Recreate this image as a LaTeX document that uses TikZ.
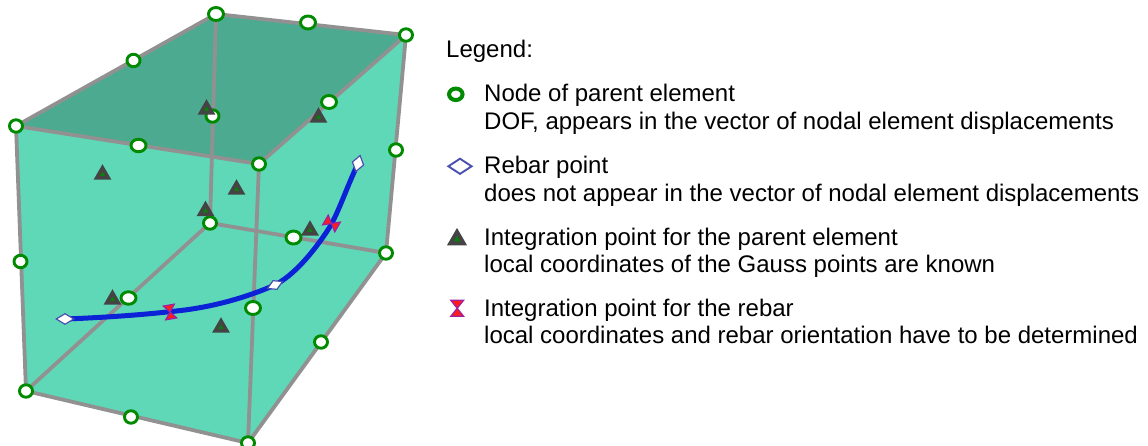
\documentclass[tikz,border=0pt]{standalone}
\usepackage{fontspec}
\setmainfont{Liberation Sans}
\usetikzlibrary{shapes.geometric}
\definecolor{faceC}{HTML}{5FD8B8}
\definecolor{topC}{HTML}{4BAA90}
\definecolor{edgeC}{HTML}{919191}
\definecolor{nodeC}{HTML}{008A00}
\definecolor{triC}{HTML}{444444}
\definecolor{triG}{HTML}{0A800A}
\definecolor{rebarC}{HTML}{0C22D6}
\definecolor{diaC}{HTML}{4A50B0}
\definecolor{hourE}{HTML}{A020A0}
\definecolor{hourF}{HTML}{FF1C1C}
\tikzset{
  x=1bp,y=-1bp,
  femnode/.style={ellipse,draw=nodeC,fill=white,line width=2.9bp,minimum width=13bp,minimum height=12.5bp,inner sep=0pt},
  edge/.style={draw=edgeC,line width=3.8bp,line join=round},
  tript/.style={regular polygon,regular polygon sides=3,draw=triC,fill=triG,line width=3.5bp,minimum size=13.5bp,inner sep=0pt},
  rebpt/.style={diamond,draw=diaC,fill=white,line width=1.2bp,minimum width=18bp,minimum height=11bp,inner sep=0pt},
  rebar/.style={draw=rebarC,line width=5bp},
  legtext/.style={anchor=base west,inner sep=0pt,font=\fontsize{24bp}{27bp}\selectfont},
  pics/hourglass/.style={code={
    \path[fill=hourF,draw=hourE,line width=1.2bp,line join=miter]
      (-5.6,-7) -- (5.6,-7) -- (-5.6,7) -- (5.6,7) -- cycle;
  }},
}
\begin{document}
\begin{tikzpicture}
\useasboundingbox (0,0) rectangle (1148,446);
% corners and mid-side positions
\coordinate (A) at (216,14);
\coordinate (B) at (406,35);
\coordinate (C) at (259,164);
\coordinate (D) at (16,126);
\coordinate (E) at (26,391);
\coordinate (F) at (248,443);
\coordinate (G) at (386,253);
\coordinate (H) at (210,223);
% faces
\fill[faceC] (D) -- (A) -- (B) -- (G) -- (F) -- (E) -- cycle;
\fill[topC] (D) -- (A) -- (B) -- (C) -- cycle;
% edges
\draw[edge] (D) -- (A) -- (B) -- (C) -- cycle;
\draw[edge] (A) -- (H);
\draw[edge] (B) -- (G);
\draw[edge] (C) -- (F);
\draw[edge] (D) -- (E);
\draw[edge] (E) -- (F) -- (G) -- (H) -- (E);
% rebar
\coordinate (r1c) at (65,319);
\coordinate (r2c) at (275,285);
\coordinate (r3c) at (358,163.5);
\draw[rebar] (r1c) .. controls (120,317) and (160,313) .. (185,310) .. controls (215,306) and (245,298) .. (r2c);
\draw[rebar] (r2c) .. controls (300,272) and (323,238) .. (331,225) .. controls (340,208) and (347,187) .. (r3c);
\node[rebpt] (r1) at (r1c) {};
\node[rebpt,rotate=25,minimum width=17bp,minimum height=10bp] (r2) at (r2c) {};
\node[rebpt,rotate=75,minimum width=17bp,minimum height=12bp] (r3) at (r3c) {};
% parent element nodes
\node[femnode,minimum width=15bp,minimum height=13bp] (nA) at (A) {};
\node[femnode] (nB) at (B) {};
\node[femnode] (nC) at (C) {};
\node[femnode] (nD) at (D) {};
\node[femnode] (nE) at (E) {};
\node[femnode] (nF) at (F) {};
\node[femnode] (nG) at (G) {};
\node[femnode] (nH) at (H) {};
\node[femnode] (m1) at (133.5,60.5) {};
\node[femnode,minimum width=15bp,minimum height=13bp] (m2) at (308,22.5) {};
\node[femnode,minimum width=15bp,minimum height=13bp] (m3) at (329,102) {};
\node[femnode,minimum width=15bp] (m4) at (138.5,145.5) {};
\node[femnode] (m5) at (212.5,116) {};
\node[femnode] (m6) at (396,150) {};
\node[femnode] (m7) at (20.5,261.5) {};
\node[femnode,minimum width=15bp,minimum height=13bp] (m8) at (293.5,237.5) {};
\node[femnode,minimum width=15bp] (m9) at (128.5,298) {};
\node[femnode,minimum width=15bp,minimum height=13bp] (m10) at (253,308) {};
\node[femnode] (m11) at (321,342) {};
\node[femnode] (m12) at (131,417) {};
% integration points of parent element
\node[tript] (t1) at (206.5,109.5) {};
\node[tript] (t2) at (318.5,117.5) {};
\node[tript] (t3) at (102.5,174.5) {};
\node[tript] (t4) at (236.5,189.5) {};
\node[tript] (t5) at (205.5,211) {};
\node[tript] (t6) at (310,230.5) {};
\node[tript] (t7) at (112.5,299.5) {};
\node[tript] (t8) at (221,327.5) {};
% integration points of rebar
\pic[rotate=10] at (170,312) {hourglass};
\pic[rotate=60] at (331.5,223.5) {hourglass};
% legend
\node[legtext] (lh) at (446,58) {Legend:};
\node[femnode,line width=4bp,minimum width=13.5bp,minimum height=11.5bp] (l1) at (455.8,94.3) {};
\node[legtext] (a1) at (484,102) {Node of parent element};
\node[legtext] (a2) at (484,130) {DOF, appears in the vector of nodal element displacements};
\node[rebpt,line width=1.9bp,minimum width=24bp,minimum height=16bp] (l2) at (460,166.3) {};
\node[legtext] (b1) at (484,174) {Rebar point};
\node[legtext] (b2) at (484,202) {does not appear in the vector of nodal element displacements};
\node[tript,minimum size=15.5bp,line width=3.8bp] (l3) at (457,239.5) {};
\node[legtext] (c1) at (484,245.5) {Integration point for the parent element};
\node[legtext] (c2) at (484,272.5) {local coordinates of the Gauss points are known};
\pic[scale=1.15] at (457.2,308.3) {hourglass};
\node[legtext] (d1) at (484,316.7) {Integration point for the rebar};
\node[legtext] (d2) at (484,344) {local coordinates and rebar orientation have to be determined};
\end{tikzpicture}
\end{document}
